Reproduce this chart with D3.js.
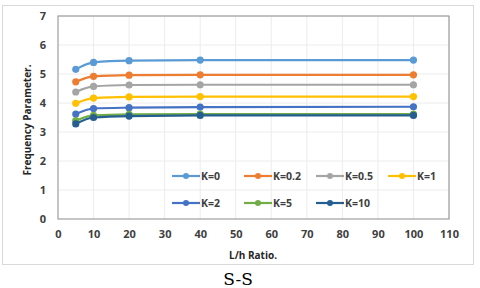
<!DOCTYPE html>
<html>
<head>
<meta charset="utf-8">
<script src="https://cdn.jsdelivr.net/npm/d3@7"></script>
<style>
  body { margin: 0; background: #fff; }
  svg { display: block; }
</style>
</head>
<body>
<svg id="chart" width="480" height="288"></svg>
<script>
// data
var ratios = [5, 10, 20, 40, 100];
var seriesNames = ["K=0", "K=0.2", "K=0.5", "K=1", "K=2", "K=5", "K=10"];
var k0   = [5.16, 5.40, 5.46, 5.48, 5.48];
var k02  = [4.73, 4.92, 4.96, 4.97, 4.97];
var k05  = [4.38, 4.57, 4.62, 4.63, 4.63];
var k1   = [3.99, 4.17, 4.21, 4.22, 4.22];
var k2   = [3.62, 3.81, 3.84, 3.86, 3.87];
var k5   = [3.39, 3.57, 3.61, 3.62, 3.62];
var k10  = [3.28, 3.50, 3.55, 3.57, 3.57];
var xTicks = [0, 10, 20, 30, 40, 50, 60, 70, 80, 90, 100, 110];
var yTicks = [0, 1, 2, 3, 4, 5, 6, 7];

var allSeries = [k0, k02, k05, k1, k2, k5, k10];
var colors = ["#5b9bd5", "#ed7d31", "#a5a5a5", "#ffc000", "#4472c4", "#70ad47", "#255e91"];

var svg = d3.select("#chart");

// outer chart frame
svg.append("rect")
    .attr("x", 2.5).attr("y", 5.5)
    .attr("width", 471).attr("height", 259)
    .attr("fill", "#fff")
    .attr("stroke", "#d9d9d9");

var plotL = 58, plotR = 449, plotT = 16, plotB = 219;

var x = d3.scaleLinear().domain([0, 110]).range([plotL, plotR]);
var y = d3.scaleLinear().domain([0, 7]).range([plotB, plotT]);

// gridlines
svg.append("g")
  .selectAll("line")
  .data(xTicks.slice(1))
  .enter().append("line")
    .attr("x1", function(d) { return x(d); })
    .attr("x2", function(d) { return x(d); })
    .attr("y1", plotT).attr("y2", plotB)
    .attr("stroke", "#ececec");

svg.append("g")
  .selectAll("line")
  .data(yTicks.slice(1))
  .enter().append("line")
    .attr("x1", plotL).attr("x2", plotR)
    .attr("y1", function(d) { return y(d); })
    .attr("y2", function(d) { return y(d); })
    .attr("stroke", "#ececec");

// plot border
svg.append("rect")
    .attr("x", plotL).attr("y", plotT)
    .attr("width", plotR - plotL).attr("height", plotB - plotT)
    .attr("fill", "none")
    .attr("stroke", "#8c8c8c");

// axes
var xAxis = svg.append("g")
    .attr("transform", "translate(0," + plotB + ")")
    .call(d3.axisBottom(x).tickValues(xTicks).tickSize(0).tickPadding(11)
      .tickFormat(d3.format("d")));
var yAxis = svg.append("g")
    .attr("transform", "translate(" + plotL + ",0)")
    .call(d3.axisLeft(y).tickValues(yTicks).tickSize(0).tickPadding(12)
      .tickFormat(d3.format("d")));

[xAxis, yAxis].forEach(function(a) {
  a.select(".domain").remove();
  a.selectAll("text")
      .attr("font-family", "'Open Sans', sans-serif")
      .attr("font-weight", "bold")
      .attr("font-size", 11)
      .attr("fill", "#404040");
});

// axis titles
svg.append("text")
    .attr("x", 253).attr("y", 259)
    .attr("text-anchor", "middle")
    .attr("font-family", "'Open Sans', sans-serif")
    .attr("font-weight", "bold")
    .attr("font-size", 10)
    .attr("fill", "#262626")
    .text("L/h Ratio.");

svg.append("text")
    .attr("transform", "translate(31," + 120 + ") rotate(-90)")
    .attr("text-anchor", "middle")
    .attr("font-family", "'Open Sans', sans-serif")
    .attr("font-weight", "bold")
    .attr("font-size", 10)
    .attr("fill", "#262626")
    .text("Frequency Parameter.");

// series
var line = d3.line()
    .x(function(d, i) { return x(ratios[i]); })
    .y(function(d) { return y(d); })
    .curve(d3.curveMonotoneX);

allSeries.forEach(function(vals, s) {
  var g = svg.append("g");
  g.append("path")
      .attr("d", line(vals))
      .attr("fill", "none")
      .attr("stroke", colors[s])
      .attr("stroke-width", 2.2);
  g.selectAll("circle")
    .data(vals)
    .enter().append("circle")
      .attr("cx", function(d, i) { return x(ratios[i]); })
      .attr("cy", function(d) { return y(d); })
      .attr("r", 3.6)
      .attr("fill", colors[s]);
});

// legend
var legend = svg.append("g");
seriesNames.forEach(function(name, i) {
  var col = i < 4 ? i : i - 4;
  var row = i < 4 ? 0 : 1;
  var lx = 172 + col * 72;
  var ly = 176 + row * 27;
  legend.append("line")
      .attr("x1", lx).attr("x2", lx + 28)
      .attr("y1", ly).attr("y2", ly)
      .attr("stroke", colors[i])
      .attr("stroke-width", 2.2);
  legend.append("circle")
      .attr("cx", lx + 14).attr("cy", ly)
      .attr("r", 3)
      .attr("fill", colors[i]);
  legend.append("text")
      .attr("x", lx + 29).attr("y", ly + 4)
      .attr("font-family", "'Open Sans', sans-serif")
      .attr("font-weight", "bold")
      .attr("font-size", 10.5)
      .attr("fill", "#404040")
      .text(name);
});

// caption
svg.append("text")
    .attr("x", 238).attr("y", 285)
    .attr("text-anchor", "middle")
    .style("font-family", "'DejaVu Serif', 'Liberation Serif', serif")
    .style("font-size", "17px")
    .attr("fill", "#000")
    .text("S-S");
</script>
</body>
</html>
